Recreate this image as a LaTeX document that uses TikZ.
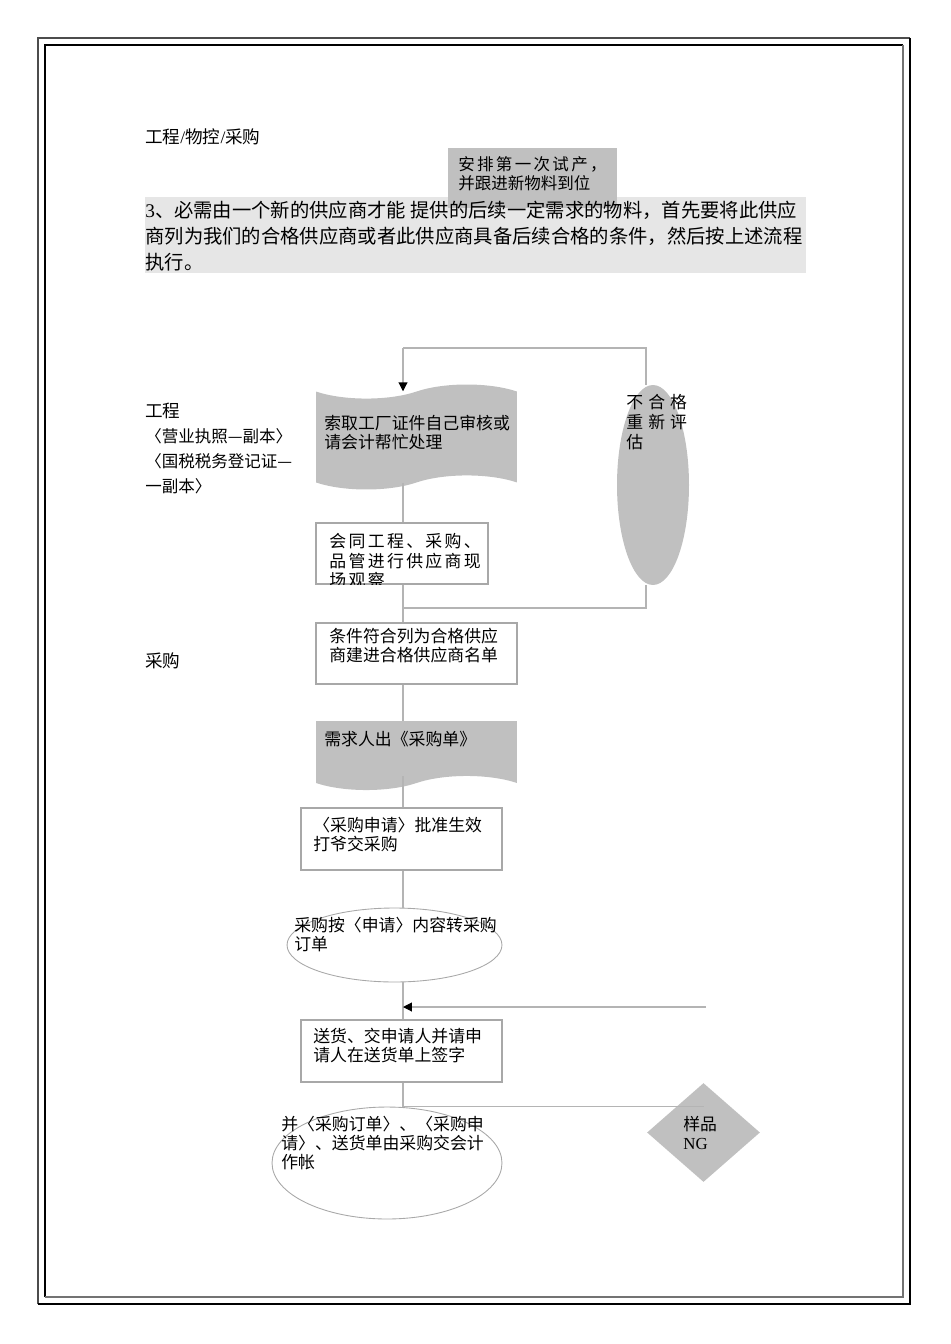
\documentclass[tikz,border=0pt]{standalone}
\usepackage{fontspec}
\setmainfont{Liberation Serif}
\newfontfamily\cjk{Noto Sans CJK SC}
\newfontfamily\cjkwide{Noto Sans CJK SC}[LetterSpace=14]
\newfontfamily\cjkwider{Noto Sans CJK SC}[LetterSpace=30]
\usetikzlibrary{shapes.geometric,shapes.symbols,arrows.meta}
\definecolor{linegray}{HTML}{B4B4B4}
\definecolor{edgegray}{HTML}{A8A8A8}
\definecolor{boxgray}{HTML}{C0C0C0}
\definecolor{bandgray}{HTML}{E6E6E6}

\begin{document}
\begin{tikzpicture}[x=0.02cm,y=-0.02cm,
    conn/.style={draw=linegray, line width=0.6pt},
    arr/.style={conn, -{Triangle[length=5pt,width=5pt,color=black]}},
    flowbox/.style={rectangle, draw=edgegray, fill=white, line width=0.6pt, inner sep=0pt,
                    minimum width=4.02cm, minimum height=1.22cm},
    tapebox/.style={tape, fill=boxgray, inner sep=0pt, minimum width=4.02cm, tape bend height=8pt},
    oval/.style={ellipse, draw=edgegray, line width=0.5pt, inner sep=0pt},
    txt/.style={anchor=north west, inner sep=0pt, align=left, font=\cjk\fontsize{9.6}{10.8}\selectfont}]
   \useasboundingbox (0,0) rectangle (950,1344);

   % page frame
   \draw[black!70, line width=0.85pt] (38,1304) -- (38,38) -- (910,38);
   \draw[black, line width=1.5pt] (910,38) -- (910,1304) -- (38,1304);
   \draw[black, line width=1.5pt] (45,1297) -- (45,45) -- (903,45);
   \draw[black!55, line width=0.85pt] (903,45) -- (903,1297) -- (45,1297);

   % heading and note
   \node[txt, font=\cjk\fontsize{10}{12}\selectfont] (hdr) at (145,128) {工程{\rmfamily/}物控{\rmfamily/}采购};
   \fill[bandgray] (145,197) rectangle (806,273);
   \node[rectangle, fill=boxgray, inner sep=0pt, minimum width=3.38cm, minimum height=1.2cm] (trial) at (532.5,178) {};
   \node[txt, font=\cjk\fontsize{9.4}{10.8}\selectfont] (trialtxt) at (458,156) {{\cjkwide 安排第一次试产，}\\并跟进新物料到位};
   \node[txt, font=\cjk\fontsize{11}{14.7}\selectfont] (para) at (145,201)
      {{\rmfamily 3}、必需由一个新的供应商才能 提供的后续一定需求的物料，首先要将此供应\\商列为我们的合格供应商或者此供应商具备后续合格的条件，然后按上述流程\\执行。};

   % flow shapes
   \node[tapebox, minimum height=2.1cm] (fetch) at (416.5,437) {};
   \node[flowbox, minimum width=3.44cm] (visit) at (402,553.5) {};
   \node[flowbox] (qualify) at (416.5,653.5) {};
   \node[tapebox, tape bend top=none, minimum height=1.38cm] (request) at (416.5,748.5) {};
   \node[flowbox, minimum height=1.24cm] (approve) at (401.5,839) {};
   \node[oval, minimum width=4.3cm, minimum height=1.48cm] (order) at (394.5,945) {};
   \node[flowbox, minimum height=1.24cm] (deliver) at (401.5,1051) {};
   \node[oval, minimum width=4.6cm, minimum height=2.24cm] (account) at (387,1163) {};
   \node[ellipse, fill=boxgray, inner sep=0pt, minimum width=1.44cm, minimum height=4cm] (reeval) at (653,485) {};
   \node[diamond, fill=boxgray, inner sep=0pt, minimum width=2.26cm, minimum height=1.98cm] (ng) at (703.5,1132.5) {};

   \coordinate (spine) at (403,0);
   \coordinate (loopL) at (403,348);
   \coordinate (loopR) at (646,348);
   \coordinate (joinB) at (403,608);
   \coordinate (ngIn) at (706,1007);

   % connectors
   \draw[conn] (reeval.north -| loopR) -- (loopR) -- (loopL);
   \draw[arr] (loopL) -- (fetch.north -| loopL);
   \draw[conn] (fetch.south -| spine) -- (visit.north -| spine);
   \draw[conn] (visit.south -| spine) -- (qualify.north -| spine);
   \draw[conn] (reeval.south -| loopR) |- (joinB);
   \draw[conn] (qualify.south -| spine) -- (request.north -| spine);
   \draw[conn] (request.south -| spine) -- (approve.north -| spine);
   \draw[conn] (approve.south -| spine) -- (order.north -| spine);
   \draw[conn] (order.south -| spine) -- (deliver.north -| spine);
   \draw[arr] (ngIn) -- (ngIn -| spine);
   \draw[conn] (deliver.south -| spine) |- (ng.center |- account.north);

   % texts
   \node[txt, font=\cjk\fontsize{10}{12}\selectfont] (eng) at (145,403) {工程};
   \node[txt, font=\cjk\fontsize{9.4}{14.2}\selectfont] (licence) at (145,428) {〈营业执照—副本〉\\〈国税税务登记证—\\一副本〉};
   \node[txt] (fetchtxt) at (324,415) {索取工厂证件自己审核或\\请会计帮忙处理};
   \node[txt, font=\cjkwider\fontsize{9.6}{11.3}\selectfont] (reevaltxt) at (626,394) {不合格\\重新评\\估};
   \begin{scope}
     \clip (visit.north west) rectangle (visit.south east);
     \node[txt, font=\cjkwide\fontsize{9.6}{11.2}\selectfont] (visittxt) at (329,533) {会同工程、采购、\\品管进行供应商现\\场观察};
   \end{scope}
   \node[txt] (qualtxt) at (329,628) {条件符合列为合格供应\\商建进合格供应商名单};
   \node[txt, font=\cjk\fontsize{10}{12}\selectfont] (purch) at (145,652) {采购};
   \node[txt] (reqtxt) at (324,731) {需求人出《采购单》};
   \node[txt] (apprtxt) at (313,817) {〈采购申请〉批准生效\\打爷交采购};
   \node[txt] (ordertxt) at (294,917) {采购按〈申请〉内容转采购\\订单};
   \node[txt] (delivtxt) at (313,1028) {送货、交申请人并请申\\请人在送货单上签字};
   \node[txt] (accttxt) at (281,1116) {并〈采购订单〉、〈采购申\\请〉、送货单由采购交会计\\作帐};
   \node[txt, font=\fontsize{9.6}{10.8}\selectfont] (ngtxt) at (683,1116) {{\cjk 样品}\\NG};
\end{tikzpicture}
\end{document}
